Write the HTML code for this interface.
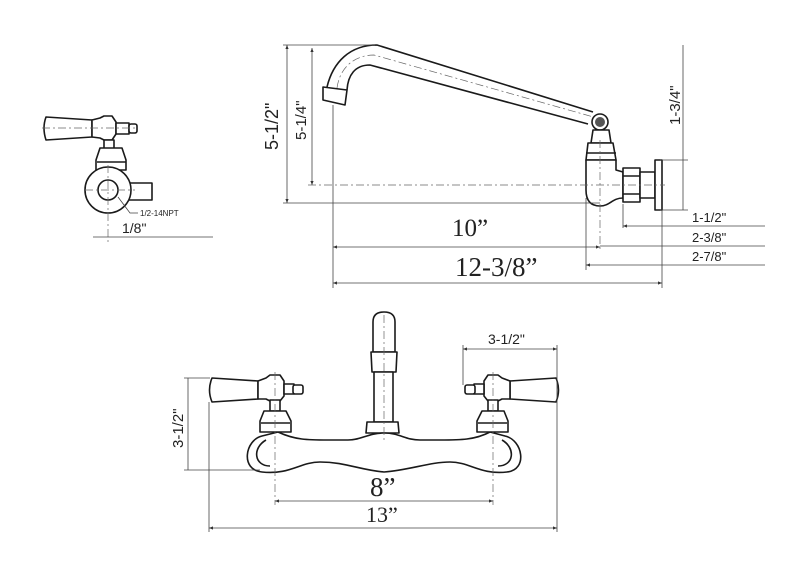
<!DOCTYPE html>
<html><head><meta charset="utf-8"><style>
html,body{margin:0;padding:0;background:#fff}
svg{display:block}
.o{fill:#fff;stroke:#1a1a1a;stroke-width:1.6;stroke-linejoin:round}
.n{fill:none;stroke:#1a1a1a;stroke-width:1.6}
.d{fill:none;stroke:#444;stroke-width:0.8}
.c{fill:none;stroke:#666;stroke-width:0.7;stroke-dasharray:8 3 2 3}
.t{font-family:"Liberation Sans",sans-serif;fill:#222}
.s{font-family:"Liberation Serif",serif;fill:#222}
</style></head><body>
<svg width="800" height="575" viewBox="0 0 800 575" xmlns="http://www.w3.org/2000/svg">
<defs><marker id="a" viewBox="0 0 10 10" refX="10" refY="5" markerWidth="7" markerHeight="5" orient="auto-start-reverse"><path d="M0,1 L10,5 L0,9z" fill="#333"/></marker></defs>

<!-- ===== Side view spout ===== -->
<path class="n" d="M327,87 C333,62 350,45 377,45 L593,112"/>
<path class="n" d="M347,90 C348,75 355,65 370,65 L588,124"/>
<path class="c" d="M337,88 C340,66 356,55 374,55 L597,118"/>
<path class="o" d="M323,87 L347,90 L345,105 L323,100 Z"/>
<circle cx="600" cy="122" r="8" class="o"/>
<circle cx="600" cy="122" r="5" fill="#555"/>
<path class="o" d="M593,130 L609,130 L611,143 L591,143 Z"/>
<path class="o" d="M588,143 L613,143 L616,160 L586,160 Z"/>
<line x1="586" y1="153" x2="616" y2="153" class="n" stroke-width="1"/>
<path class="o" d="M586,160 L616,160 L616,170 L623,172 L623,198 C612,198 610,206 600,206 C590,206 586,200 586,190 Z"/>
<rect x="623" y="168" width="17" height="34" class="o"/>
<line x1="623" y1="176" x2="640" y2="176" class="n" stroke-width="1"/>
<line x1="623" y1="194" x2="640" y2="194" class="n" stroke-width="1"/>
<rect x="640" y="172" width="15" height="26" class="o"/>
<rect x="655" y="160" width="7" height="50" class="o"/>

<!-- side view dims -->
<line x1="287" y1="45" x2="287" y2="203" class="d" marker-start="url(#a)" marker-end="url(#a)"/>
<line x1="283" y1="203" x2="600" y2="203" class="d"/>
<line x1="283" y1="45" x2="375" y2="45" class="d"/>
<line x1="312" y1="48" x2="312" y2="185" class="d" marker-start="url(#a)" marker-end="url(#a)"/>
<line x1="308" y1="185" x2="665" y2="185" class="c"/>
<text class="t" font-size="18" transform="translate(278,150) rotate(-90)">5-1/2"</text>
<text class="t" font-size="15" transform="translate(306,140) rotate(-90)">5-1/4"</text>
<line x1="683" y1="45" x2="683" y2="210" class="d"/>
<line x1="660" y1="160" x2="688" y2="160" class="d"/>
<line x1="660" y1="210" x2="688" y2="210" class="d"/>
<text class="t" font-size="15" transform="translate(680,125) rotate(-90)">1-3/4"</text>
<line x1="333" y1="105" x2="333" y2="288" class="d"/>
<line x1="586" y1="198" x2="586" y2="270" class="d"/>
<line x1="600" y1="140" x2="600" y2="252" class="c"/>
<line x1="623" y1="204" x2="623" y2="228" class="d"/>
<line x1="662" y1="210" x2="662" y2="288" class="d"/>
<line x1="333" y1="247" x2="600" y2="247" class="d" marker-start="url(#a)" marker-end="url(#a)"/>
<text class="s" font-size="25" x="452" y="236">10”</text>
<line x1="333" y1="283" x2="662" y2="283" class="d" marker-start="url(#a)" marker-end="url(#a)"/>
<text class="s" font-size="27" x="455" y="276">12-3/8”</text>
<line x1="623" y1="226" x2="765" y2="226" class="d" marker-start="url(#a)"/>
<line x1="600" y1="246" x2="765" y2="246" class="d"/>
<line x1="586" y1="265" x2="765" y2="265" class="d" marker-start="url(#a)"/>
<text class="t" font-size="13" x="692" y="222">1-1/2"</text>
<text class="t" font-size="13" x="692" y="242">2-3/8"</text>
<text class="t" font-size="13" x="692" y="261">2-7/8"</text>

<!-- ===== Small left view ===== -->
<path class="o" d="M46,117 L92,120 L92,137 L46,140 Q42,128 46,117 Z"/>
<path class="o" d="M92,120 L100,118 L104,116 L112,116 L116,122 L116,134 L112,140 L104,140 L100,138 L92,137 Z"/>
<rect x="116" y="123" width="13" height="11" class="o"/>
<rect x="129" y="124" width="8" height="9" rx="2" class="o"/>
<rect x="104" y="140" width="10" height="9" class="o"/>
<path class="o" d="M100,148 L122,148 L126,160 L126,170 L96,170 L96,160 Z"/>
<line x1="97" y1="162" x2="126" y2="162" class="n" stroke-width="1"/>
<rect x="128" y="183" width="24" height="17" class="o"/>
<circle cx="108" cy="190" r="23" class="o"/>
<circle cx="108" cy="190" r="10" class="o"/>
<line x1="85" y1="190" x2="135" y2="190" class="c"/>
<line x1="108" y1="165" x2="108" y2="242" class="c"/>
<line x1="42" y1="128" x2="135" y2="128" class="c"/>
<path class="d" d="M118,197 L130,213 L138,213"/>
<text class="t" font-size="8" x="140" y="216">1/2-14NPT</text>
<line x1="93" y1="237" x2="213" y2="237" class="d"/>
<text class="t" font-size="14" x="122" y="233">1/8"</text>

<!-- ===== Front view ===== -->
<!-- spout -->
<path class="o" d="M373,352 L373,322 Q373,312 384,312 Q395,312 395,322 L395,352 Z"/>
<path class="o" d="M371,352 L397,352 L396,372 L372,372 Z"/>
<rect x="374" y="372" width="19" height="50" class="o"/>
<path class="o" d="M367,422 L398,422 L399,433 L366,433 Z"/>
<!-- body -->
<path class="o" d="M262,436 C245,440 240,470 262,472 C290,475 300,462 320,462 C345,462 360,470 384,472 C410,470 430,462 450,462 C470,462 480,475 507,472 C528,470 523,440 505,436 L490,432 C475,440 460,440 440,440 L420,440 C405,440 400,433 384,433 C368,433 362,440 348,440 L328,440 C308,440 295,440 278,432 Z"/>
<path class="n" d="M266,440 C252,448 254,466 270,466" stroke-width="1.2"/>
<path class="n" d="M502,440 C516,448 514,466 498,466" stroke-width="1.2"/>
<!-- left valve -->
<path class="o" d="M212,378 L258,381 L258,399 L212,402 Q207,390 212,378 Z"/>
<path class="o" d="M258,381 L266,378 L270,375 L280,375 L284,381 L284,396 L280,401 L270,401 L266,399 L258,399 Z"/>
<rect x="284" y="384" width="10" height="10" class="o"/>
<rect x="293" y="385" width="10" height="9" rx="2" class="o"/>
<rect x="270" y="400" width="10" height="11" class="o"/>
<path class="o" d="M264,411 L286,411 L291,421 L291,432 L260,432 L260,421 Z"/>
<line x1="261" y1="423" x2="290" y2="423" class="n" stroke-width="1"/>
<!-- right valve (mirror around 384) -->
<g transform="translate(768,0) scale(-1,1)">
<path class="o" d="M212,378 L258,381 L258,399 L212,402 Q207,390 212,378 Z"/>
<path class="o" d="M258,381 L266,378 L270,375 L280,375 L284,381 L284,396 L280,401 L270,401 L266,399 L258,399 Z"/>
<rect x="284" y="384" width="10" height="10" class="o"/>
<rect x="293" y="385" width="10" height="9" rx="2" class="o"/>
<rect x="270" y="400" width="10" height="11" class="o"/>
<path class="o" d="M264,411 L286,411 L291,421 L291,432 L260,432 L260,421 Z"/>
<line x1="261" y1="423" x2="290" y2="423" class="n" stroke-width="1"/>
</g>
<!-- front dims -->
<line x1="275" y1="372" x2="275" y2="505" class="c"/>
<line x1="493" y1="372" x2="493" y2="505" class="c"/>
<line x1="384" y1="315" x2="384" y2="440" class="c"/>
<line x1="188" y1="378" x2="188" y2="470" class="d"/>
<line x1="184" y1="378" x2="210" y2="378" class="d"/>
<line x1="184" y1="470" x2="260" y2="470" class="d"/>
<text class="t" font-size="15" transform="translate(183,448) rotate(-90)">3-1/2"</text>
<line x1="209" y1="402" x2="209" y2="532" class="d"/>
<line x1="557" y1="345" x2="557" y2="532" class="d"/>
<line x1="463" y1="345" x2="463" y2="385" class="d"/>
<line x1="463" y1="349" x2="557" y2="349" class="d" marker-start="url(#a)" marker-end="url(#a)"/>
<text class="t" font-size="14" x="488" y="344">3-1/2"</text>
<line x1="275" y1="501" x2="493" y2="501" class="d" marker-start="url(#a)" marker-end="url(#a)"/>
<text class="s" font-size="27" x="370" y="496">8”</text>
<line x1="209" y1="528" x2="557" y2="528" class="d" marker-start="url(#a)" marker-end="url(#a)"/>
<text class="s" font-size="22" x="366" y="522">13”</text>
</svg>
</body></html>
